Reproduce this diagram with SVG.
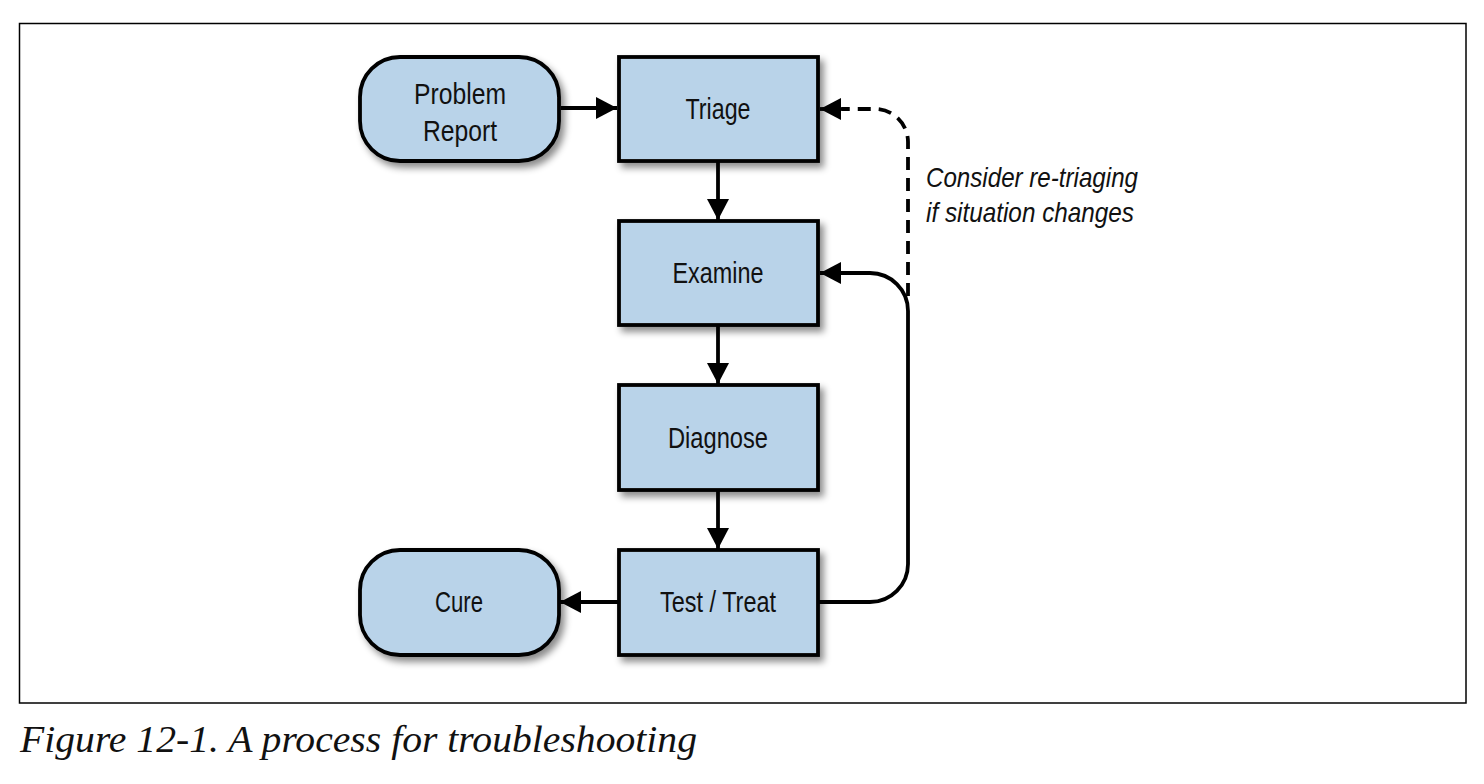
<svg xmlns="http://www.w3.org/2000/svg" width="1484" height="784" viewBox="0 0 1484 784">
<style>
.node{fill:#b9d3e9;stroke:#000;stroke-width:3.8;filter:url(#sh)}
.lbl{font-family:"Liberation Sans",Arial,sans-serif;font-size:29px;fill:#111;text-anchor:middle}
.ann{font-family:"Liberation Sans",Arial,sans-serif;font-style:italic;font-size:28px;fill:#111}
.cap{font-family:"Liberation Serif","Times New Roman",serif;font-style:italic;font-size:37px;fill:#111}
.ln{fill:none;stroke:#000;stroke-width:3.8}
.dash{stroke-dasharray:13 8}
</style>
<defs>
<filter id="sh" x="-20%" y="-20%" width="150%" height="150%">
<feDropShadow dx="4" dy="5" stdDeviation="3.5" flood-color="#000" flood-opacity="0.45"/>
</filter>
<marker id="ah" markerUnits="userSpaceOnUse" markerWidth="24" markerHeight="24" viewBox="0 0 24 24" refX="21" refY="12" orient="auto">
<path d="M0,1 L21,12 L0,23 Z" fill="#000"/>
</marker>
</defs>
<rect x="19.5" y="23.5" width="1446.5" height="679.5" fill="none" stroke="#000" stroke-width="1.5"/>
<g id="connectors">
<path class="ln" d="M561,108 H617" marker-end="url(#ah)"/>
<path class="ln" d="M718,161 V220" marker-end="url(#ah)"/>
<path class="ln" d="M718,325 V384" marker-end="url(#ah)"/>
<path class="ln" d="M718,490 V549" marker-end="url(#ah)"/>
<path class="ln" d="M619,602 H560" marker-end="url(#ah)"/>
<path class="ln" d="M818,602 H870 A38,38 0 0 0 908,564 V311 A38,38 0 0 0 870,273 H820" marker-end="url(#ah)"/>
<path class="ln dash" d="M908,296 V142 A33,33 0 0 0 875,109 H842"/>
<path class="ln" d="M842,109 H820" marker-end="url(#ah)"/>
</g>
<g id="problem-report">
<rect class="node" x="360" y="57" width="199" height="104" rx="40" ry="40"/>
<text class="lbl" x="460" y="104" textLength="92" lengthAdjust="spacingAndGlyphs">Problem</text>
<text class="lbl" x="460" y="141" textLength="74" lengthAdjust="spacingAndGlyphs">Report</text>
</g>
<g id="triage">
<rect class="node" x="619" y="57" width="199" height="104"/>
<text class="lbl" x="718" y="119" textLength="65" lengthAdjust="spacingAndGlyphs">Triage</text>
</g>
<g id="examine">
<rect class="node" x="619" y="221" width="199" height="104"/>
<text class="lbl" x="718" y="283" textLength="91" lengthAdjust="spacingAndGlyphs">Examine</text>
</g>
<g id="diagnose">
<rect class="node" x="619" y="385" width="199" height="105"/>
<text class="lbl" x="718" y="448" textLength="100" lengthAdjust="spacingAndGlyphs">Diagnose</text>
</g>
<g id="test-treat">
<rect class="node" x="619" y="550" width="199" height="105"/>
<text class="lbl" x="718" y="612" textLength="116" lengthAdjust="spacingAndGlyphs">Test / Treat</text>
</g>
<g id="cure">
<rect class="node" x="360" y="550" width="199" height="105" rx="40" ry="40"/>
<text class="lbl" x="459" y="612" textLength="48" lengthAdjust="spacingAndGlyphs">Cure</text>
</g>
<g id="annotation">
<text class="ann" x="926" y="187" textLength="212" lengthAdjust="spacingAndGlyphs">Consider re-triaging</text>
<text class="ann" x="926" y="222" textLength="208" lengthAdjust="spacingAndGlyphs">if situation changes</text>
</g>
<text class="cap" x="20" y="752" textLength="677" lengthAdjust="spacingAndGlyphs">Figure 12-1. A process for troubleshooting</text>
</svg>
